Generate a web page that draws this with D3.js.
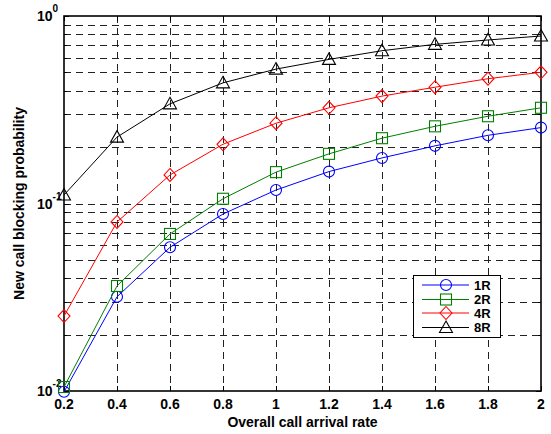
<!DOCTYPE html>
<html><head><meta charset="utf-8">
<script src="https://cdn.jsdelivr.net/npm/d3@7"></script>
<style>body{margin:0;background:#fff}svg{display:block}</style>
</head><body><svg id="c" width="551" height="434"></svg>
<script>
const xValues = [0.2,0.4,0.6,0.8,1.0,1.2,1.4,1.6,1.8,2.0];
const r1 = [0.0099,0.0318,0.0584,0.0879,0.118,0.148,0.175,0.203,0.231,0.254];
const r2 = [0.0105,0.0363,0.0688,0.106,0.147,0.184,0.223,0.258,0.292,0.324];
const r4 = [0.0251,0.0797,0.142,0.207,0.268,0.324,0.374,0.417,0.463,0.501];
const r8 = [0.111,0.226,0.34,0.44,0.521,0.587,0.653,0.706,0.745,0.782];
const seriesNames = ["1R","2R","4R","8R"];
const xTicks = [0.2,0.4,0.6,0.8,1,1.2,1.4,1.6,1.8,2];
const xTickLabels = ["0.2","0.4","0.6","0.8","1","1.2","1.4","1.6","1.8","2"];
const yMajor = [0.01,0.1,1];
const yMajorExp = ["-2","-1","0"];
const xLabel = "Overall call arrival rate";
const yLabel = "New call blocking probability";

const series = [
  {name:seriesNames[0], values:r1, color:"#0000ff", marker:"circle"},
  {name:seriesNames[1], values:r2, color:"#008000", marker:"square"},
  {name:seriesNames[2], values:r4, color:"#ff0000", marker:"diamond"},
  {name:seriesNames[3], values:r8, color:"#000000", marker:"triangle"}
];

const L=64, R=541, T=16, B=391;
const svg = d3.select("#c");
const x = d3.scaleLinear().domain([0.2,2]).range([L,R]);
const y = d3.scaleLog().domain([0.01,1]).range([B,T]);

const yMinor = [];
for (let d=0; d<2; d++) for (let k=2;k<=9;k++) yMinor.push(yMajor[d]*k);

const grid = svg.append("g").attr("stroke","#222").attr("stroke-width",1).attr("stroke-dasharray","7,5").attr("fill","none");
xTicks.slice(1,-1).forEach(v=>{
  grid.append("line").attr("x1",Math.round(x(v))+0.5).attr("x2",Math.round(x(v))+0.5).attr("y1",T).attr("y2",B);
});
yMajor.concat(yMinor).forEach(v=>{
  if (v<=0.01||v>=1) return;
  grid.append("line").attr("y1",Math.round(y(v))+0.5).attr("y2",Math.round(y(v))+0.5).attr("x1",L).attr("x2",R);
});

const tk = svg.append("g").attr("stroke","#000").attr("stroke-width",1);
xTicks.forEach(v=>{
  const px=Math.round(x(v))+0.5;
  tk.append("line").attr("x1",px).attr("x2",px).attr("y1",B).attr("y2",B-5);
  tk.append("line").attr("x1",px).attr("x2",px).attr("y1",T).attr("y2",T+5);
});
yMajor.forEach(v=>{
  const py=Math.round(y(v))+0.5;
  tk.append("line").attr("x1",L).attr("x2",L+5).attr("y1",py).attr("y2",py);
  tk.append("line").attr("x1",R).attr("x2",R-5).attr("y1",py).attr("y2",py);
});
yMinor.forEach(v=>{
  const py=Math.round(y(v))+0.5;
  tk.append("line").attr("x1",L).attr("x2",L+3).attr("y1",py).attr("y2",py);
  tk.append("line").attr("x1",R).attr("x2",R-3).attr("y1",py).attr("y2",py);
});

svg.append("rect").attr("x",L).attr("y",T).attr("width",R-L).attr("height",B-T)
  .attr("fill","none").attr("stroke","#000").attr("stroke-width",1.6);

const font = "Arial, 'Liberation Sans', sans-serif";
const xl = svg.append("g").attr("font-family",font).attr("font-weight","bold").attr("font-size",14).attr("text-anchor","middle");
xTicks.forEach((v,i)=>{
  xl.append("text").attr("x",x(v)).attr("y",B+18).text(xTickLabels[i]);
});
const yl = svg.append("g").attr("font-family",font).attr("font-weight","bold");
yMajor.forEach((v,i)=>{
  const py=y(v);
  const t = yl.append("text").attr("x",L-27).attr("y",py+5).attr("font-size",14);
  t.append("tspan").text("10");
  t.append("tspan").attr("dy",-9).attr("font-size",10).text(yMajorExp[i]);
});

svg.append("text").attr("x",(L+R)/2).attr("y",427).attr("text-anchor","middle")
  .attr("font-family",font).attr("font-weight","bold").attr("font-size",14).text(xLabel);
svg.append("text").attr("transform",`translate(24,${(T+B)/2}) rotate(-90)`).attr("text-anchor","middle")
  .attr("font-family",font).attr("font-weight","bold").attr("font-size",14).text(yLabel);

function drawMarker(g, type, cx, cy){
  if (type==="circle") g.append("circle").attr("cx",cx).attr("cy",cy).attr("r",5.5);
  else if (type==="square") g.append("rect").attr("x",cx-5.5).attr("y",cy-5.5).attr("width",11).attr("height",11);
  else if (type==="diamond") g.append("path").attr("d",`M${cx},${cy-6.5}L${cx+6},${cy}L${cx},${cy+6.5}L${cx-6},${cy}Z`);
  else if (type==="triangle") g.append("path").attr("d",`M${cx},${cy-6.5}L${cx+6.5},${cy+5}L${cx-6.5},${cy+5}Z`);
}

const line = d3.line().x((d,i)=>x(xValues[i])).y(d=>y(d));
series.forEach(s=>{
  const g = svg.append("g").attr("stroke",s.color).attr("fill","none").attr("stroke-width",1);
  g.append("path").attr("d",line(s.values));
  const mg = svg.append("g").attr("stroke",s.color).attr("fill","none").attr("stroke-width",1.1);
  s.values.forEach((v,i)=>drawMarker(mg,s.marker,x(xValues[i]),y(v)));
});

const lg = svg.append("g");
lg.append("rect").attr("x",413.5).attr("y",275.5).attr("width",87).attr("height",62).attr("fill","#fff").attr("stroke","#000").attr("stroke-width",1);
const rows=[285,299.5,313,327.5];
series.forEach((s,i)=>{
  lg.append("line").attr("x1",422).attr("x2",469).attr("y1",rows[i]).attr("y2",rows[i]).attr("stroke",s.color).attr("stroke-width",1);
  const mg = lg.append("g").attr("stroke",s.color).attr("fill","none").attr("stroke-width",1.1);
  drawMarker(mg,s.marker,446,rows[i]);
  lg.append("text").attr("x",474).attr("y",rows[i]+4.5).attr("font-family",font).attr("font-weight","bold").attr("font-size",13).text(s.name);
});
</script></body></html>
